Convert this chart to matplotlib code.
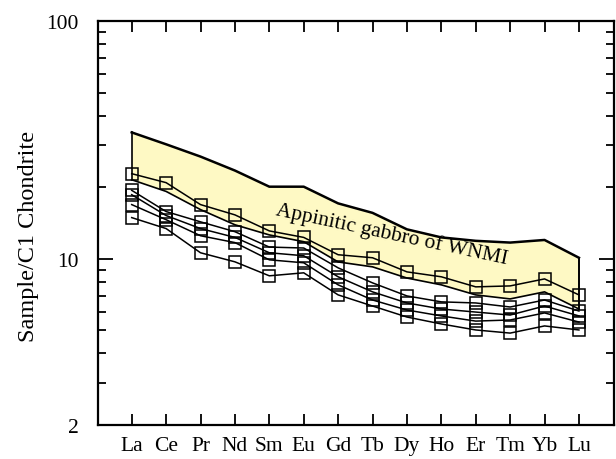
import matplotlib
matplotlib.use("Agg")
import matplotlib.pyplot as plt
import numpy as np

elements = ["La", "Ce", "Pr", "Nd", "Sm", "Eu", "Gd", "Tb", "Dy", "Ho", "Er", "Tm", "Yb", "Lu"]

band_upper = [34.0, 30.3, 26.9, 23.5, 20.1, 20.1, 17.1, 15.6, 13.3, 12.3, 11.9, 11.7, 12.0, 10.1]
band_lower = [21.5, 19.2, 16.1, 13.9, 12.6, 11.8, 9.7, 9.25, 8.3, 7.77, 7.05, 6.78, 7.26, 6.15]

sample1 = [22.8, 20.9, 16.9, 15.3, 13.1, 12.3, 10.4, 10.1, 8.81, 8.40, 7.62, 7.69, 8.23, 7.05]
sample2 = [19.4, 15.8, 14.3, 13.0, 11.2, 11.1, 9.16, 7.92, 6.98, 6.59, 6.52, 6.27, 6.71, 6.03]
sample3 = [18.6, 15.2, 13.4, 12.3, 10.6, 10.3, 8.40, 7.26, 6.52, 6.15, 5.97, 5.80, 6.33, 5.75]
sample4 = [16.9, 14.6, 12.5, 11.7, 9.90, 9.62, 7.77, 6.71, 6.09, 5.75, 5.47, 5.53, 5.92, 5.42]
sample5 = [14.9, 13.4, 10.6, 9.71, 8.48, 8.73, 7.05, 6.33, 5.69, 5.32, 5.02, 4.87, 5.22, 5.02]
samples = [sample1, sample2, sample3, sample4, sample5]

band_label = "Appinitic gabbro of WNMI"
y_ticks = [2, 10, 100]
y_minor = [3, 4, 5, 6, 7, 8, 9, 20, 30, 40, 50, 60, 70, 80, 90]

serif = ["Liberation Serif", "DejaVu Serif"]
plt.rcParams["font.family"] = serif

fig = plt.figure(figsize=(6.16, 4.60), dpi=100)
ax = fig.add_axes([0.1591, 0.0739, 0.8377, 0.8783])

x = np.arange(1, len(elements) + 1)

ax.fill_between(x, band_lower, band_upper, color="#FEF9C4", zorder=1, linewidth=0)
ax.plot(x, band_upper, color="black", lw=1.8, zorder=2)
ax.plot(x, band_lower, color="black", lw=1.2, zorder=2)
ax.plot([x[0], x[0]], [band_lower[0], band_upper[0]], color="black", lw=1.2, zorder=2)
ax.plot([x[-1], x[-1]], [band_lower[-1], band_upper[-1]], color="black", lw=1.4, zorder=2)

for s in samples:
    ax.plot(x, s, color="black", lw=1.1, marker="s", markersize=8,
            markerfacecolor="none", markeredgecolor="black", markeredgewidth=1.1, zorder=3)

ax.set_yscale("log")
ax.set_ylim(2, 100)
ax.set_xlim(0.02, 15.02)

ax.set_yticks(y_ticks)
ax.set_yticklabels([str(t) for t in y_ticks], fontsize=15.5)
ax.set_yticks(y_minor, minor=True)
ax.set_yticklabels([], minor=True)

ax.set_xticks(x)
ax.set_xticklabels(elements, fontsize=15.5)
ax.xaxis.set_minor_locator(matplotlib.ticker.NullLocator())

ax.tick_params(axis="both", which="both", direction="in", top=True, right=True, width=1.3, colors="black")
ax.tick_params(axis="y", which="major", length=11, pad=14)
ax.tick_params(axis="y", which="minor", length=6)
ax.tick_params(axis="x", which="major", length=8, pad=8)

for sp in ax.spines.values():
    sp.set_linewidth(1.6)

ax.set_ylabel("Sample/C1 Chondrite", fontsize=17.5, labelpad=7)
ax.yaxis.set_label_coords(-0.115, 0.468)

ax.text(8.55, 12.75, band_label, rotation=-12, fontsize=15.5,
        ha="center", va="center", zorder=4, rotation_mode="anchor")

fig.savefig("out.png", dpi=100)
